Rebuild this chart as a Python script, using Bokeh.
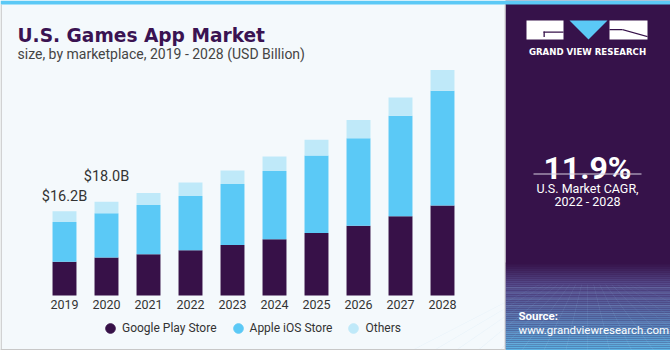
from bokeh.plotting import figure
from bokeh.models import (ColumnDataSource, Range1d, Label, BoxAnnotation, Legend, LegendItem,
                          PolyAnnotation)
from bokeh.core.properties import value
from bokeh.embed import file_html
from bokeh.resources import INLINE

# ---- data ----
years = ["2019", "2020", "2021", "2022", "2023", "2024", "2025", "2026", "2027", "2028"]
google_play = [6.5, 7.3, 7.9, 8.7, 9.7, 10.8, 12.0, 13.4, 15.2, 17.3]
apple_ios = [7.6, 8.5, 9.5, 10.4, 11.7, 13.1, 14.9, 16.8, 19.3, 22.0]
others = [2.1, 2.2, 2.3, 2.6, 2.6, 2.8, 3.0, 3.5, 3.5, 4.0]
series_names = ["Google Play Store", "Apple iOS Store", "Others"]
labelled_years = ["2019", "2020"]
cagr_text = "11.9%"

# ---- style ----
W, H = 670, 350
C_GOOGLE = "#371148"
C_IOS = "#5bc9f6"
C_OTHERS = "#bfe9f9"
C_PANEL = "#36124a"
BG = "#f4f9fc"
label_offsets_px = [-15, -25]

px_per_cat = 42.0
first_center = 64.0
baseline_top = 295.0
units_per_px = 0.192

x0 = -first_center / px_per_cat
x_range = Range1d(x0, x0 + W / px_per_cat)
y0 = -(H - baseline_top) * units_per_px
y_range = Range1d(y0, y0 + H * units_per_px)

p = figure(width=W, height=H, x_range=x_range, y_range=y_range,
           output_backend="svg", toolbar_location=None, min_border=0,
           background_fill_color=BG, border_fill_color=BG)
p.axis.visible = False
p.grid.visible = False
p.outline_line_color = None

idx = list(range(len(years)))
totals = [round(g + a + o, 1) for g, a, o in zip(google_play, apple_ios, others)]
src = ColumnDataSource(dict(x=idx, year=years, google=google_play, ios=apple_ios,
                            others=others, total=totals))

p.vbar_stack(["google", "ios", "others"], x="x", width=0.57, source=src,
             color=[C_GOOGLE, C_IOS, C_OTHERS], line_color=None)

# year tick labels
p.text(x="x", y=0, text="year", source=src, text_align="center", text_baseline="top",
       y_offset=4, text_font=value("Roboto"), text_font_size="12.5px", text_color="#333333")

# value labels
lab_idx = [years.index(y) for y in labelled_years]
lab_src = ColumnDataSource(dict(x=[idx[i] for i in lab_idx], y=[totals[i] for i in lab_idx],
                                t=["$%.1fB" % totals[i] for i in lab_idx],
                                off=label_offsets_px))
p.text(x="x", y="y", text="t", source=lab_src, text_align="center", text_baseline="middle",
       y_offset="off", text_font=value("Roboto"), text_font_size="14.5px",
       text_color="#333333")


def slabel(x, y, text, size, color, bold=False, align="left", baseline="middle",
           font="Roboto", level="overlay"):
    p.add_layout(Label(x=x, y=H - y, x_units="screen", y_units="screen", text=text,
                       text_font=font, text_font_style="bold" if bold else "normal",
                       text_font_size=size, text_color=color, text_align=align,
                       text_baseline=baseline, level=level))


# ---- title ----
slabel(17, 35, "U.S. Games App Market", "18.6px", "#3a1352", bold=True, baseline="alphabetic",
       font="DejaVu Sans")
slabel(17, 53.5, "size, by marketplace, 2019 - 2028 (USD Billion)", "14px", "#444444",
       baseline="alphabetic")

# ---- legend ----
items = []
colors = [C_GOOGLE, C_IOS, C_OTHERS]
for name, c in zip(series_names, colors):
    r = p.scatter(x=[-100], y=[-100], marker="circle", size=10, color=c)
    items.append(LegendItem(label=name, renderers=[r]))
leg = Legend(items=items, orientation="horizontal", location=(98, 10),
             background_fill_alpha=0, border_line_color=None, padding=0, margin=0,
             glyph_width=24, glyph_height=24, label_standoff=0, spacing=9,
             label_text_font="Roboto", label_text_font_size="12px",
             label_text_color="#333333")
p.add_layout(leg, "center")

# ---- right panel ----
PL = 505


def sbox(l, r, t, b, c, alpha=1.0):
    p.add_layout(BoxAnnotation(left=l, right=r, top=H - t, bottom=H - b, left_units="screen",
                               right_units="screen", top_units="screen", bottom_units="screen",
                               fill_color=c, fill_alpha=alpha, line_color=None, level="overlay"))


sbox(PL, W, 0, H, C_PANEL)


def lerp(a, b, t):
    return "#%02x%02x%02x" % tuple(int(round(a[i] + (b[i] - a[i]) * t)) for i in range(3))


top_c = (0x36, 0x12, 0x4a)
mid_c = (0x55, 0x4c, 0x8c)
bot_c = (0x5c, 0xb6, 0xe6)
g_top, g_mid, g_bot = 262, 283, 350
for yy in range(g_top, g_bot, 2):
    if yy < g_mid:
        c = lerp(top_c, mid_c, (yy - g_top) / (g_mid - g_top))
    else:
        c = lerp(mid_c, bot_c, ((yy - g_mid) / (g_bot - g_mid)) ** 1.3)
    sbox(PL, W, yy, yy + 2, c)

# faint perspective grid
for k in range(-8, 9):
    xt = 587 + k * 6
    xb = 587 + k * 22
    p.add_layout(PolyAnnotation(xs=[xt, xb, xb + 0.6, xt + 0.3], ys=[H - 284, 0, 0, H - 284],
                                xs_units="screen", ys_units="screen", fill_color="#9fcfee",
                                fill_alpha=0.25, line_color=None, level="overlay"))
for yy in [287, 292, 298, 305, 313, 322, 332, 343]:
    sbox(PL, W, yy, yy + 0.7, "#a9d8f4", 0.3)

# logo
sbox(526, 563, 20, 39, "white")
sbox(543, 563, 31, 32.3, C_PANEL)
sbox(543, 544.3, 31, 36.5, C_PANEL)
p.add_layout(PolyAnnotation(xs=[569, 607, 588], ys=[H - 20, H - 20, H - 39], xs_units="screen",
                            ys_units="screen", fill_color=C_IOS, fill_alpha=1, line_color=None,
                            level="overlay"))
sbox(609, 647, 20, 39, "white")
p.add_layout(PolyAnnotation(xs=[622, 647, 647, 622], ys=[H - 28.5, H - 35.5, H - 36.8, H - 29.8],
                            xs_units="screen", ys_units="screen", fill_color=C_PANEL,
                            fill_alpha=1, line_color=None, level="overlay"))
sbox(609, 622, 28.5, 29.8, C_PANEL)

slabel(587, 51, "GRAND VIEW RESEARCH", "8.6px", "white", bold=True, align="center",
       font="DejaVu Sans")

# CAGR
slabel(587, 167, cagr_text, "32px", "white", bold=True, align="center", baseline="alphabetic")
sbox(533, 641, 173, 174, "#d8cfe0")
slabel(587, 188, "U.S. Market CAGR,", "12.5px", "white", align="center")
slabel(587, 201, "2022 - 2028", "12.5px", "white", align="center")

# source
slabel(518, 315, "Source:", "11.5px", "white", bold=True)
slabel(518, 329, "www.grandviewresearch.com", "11.5px", "white")

# frame decorations: top stripe, borders
sbox(0, W, 0, 4, C_IOS)
sbox(0, 1.3, 4, H, "#c8c8c8")
sbox(0, PL, H - 1.5, H, "#c8c8c8")
sbox(504, 505, 4, H, "#d0d0d0")

open("out.html", "w").write(file_html(p, INLINE))
